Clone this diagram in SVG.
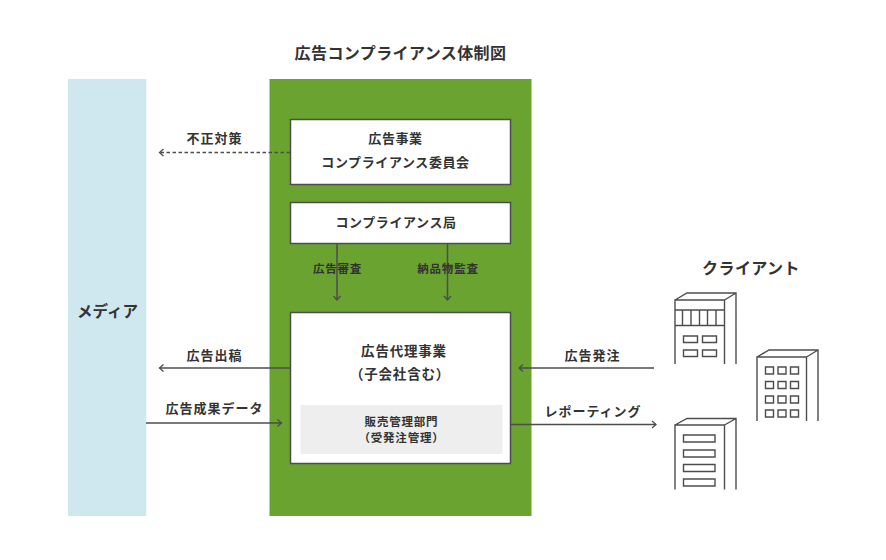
<svg xmlns="http://www.w3.org/2000/svg" width="886" height="560" viewBox="0 0 886 560">
<style>
text{font-family:"Noto Sans CJK JP","Noto Sans",sans-serif;font-weight:700;fill:#333;text-anchor:middle}
.t16{font-size:16px;letter-spacing:.4px}
.t13{font-size:13px;letter-spacing:.6px}
.t14{font-size:13.500px;letter-spacing:.8px}
.t12{font-size:13px;letter-spacing:1px}
.t11{font-size:11.500px;letter-spacing:.8px}
.box{fill:#fff;stroke:#4d4d4d;stroke-width:1.5}
.ln{fill:none;stroke:#4d4d4d;stroke-width:1.5}
.bd{fill:none;stroke:#4d4d4d;stroke-width:1.4}
</style>
<defs>
<marker id="arr" markerUnits="userSpaceOnUse" markerWidth="10" markerHeight="12" refX="8" refY="6" orient="auto">
<path d="M4,2.500L8,6L4,9.500" fill="none" stroke="#4d4d4d" stroke-width="1.3"/>
</marker>
</defs>
<rect width="886" height="560" fill="#fff"/>
<text id="title" class="t16" x="400.500" y="58.500">広告コンプライアンス体制図</text>
<g id="media"><rect x="68" y="79" width="78.300" height="437" fill="#cfe7ef"/><text class="t16" x="107.500" y="316.500" style="font-size:15.500px;letter-spacing:0">メディア</text></g>
<g id="group"><rect x="269.500" y="79" width="262" height="437" fill="#6aa330"/></g>
<g id="committee"><rect class="box" x="290.500" y="119.500" width="220" height="65"/><text class="t13" x="395.500" y="143">広告事業</text><text class="t13" x="395.500" y="167">コンプライアンス委員会</text></g>
<g id="bureau"><rect class="box" x="290.500" y="202.500" width="220" height="41"/><text class="t13" x="396" y="227">コンプライアンス局</text></g>
<g id="agency"><rect class="box" x="290.500" y="312.500" width="220" height="151"/><text class="t14" x="404" y="355.500">広告代理事業</text><text class="t14" x="400" y="378.500">（子会社含む）</text></g>
<g id="sales"><rect x="300.500" y="405" width="202" height="49" fill="#edeeed"/><text class="t11" x="401.500" y="426">販売管理部門</text><text class="t11" x="401.500" y="442">（受発注管理）</text></g>
<g id="connectors">
<path class="ln" d="M290,152.500H159.500" stroke-width="1.700" stroke-dasharray="3.500 2.500" marker-end="url(#arr)"/>
<path class="ln" d="M337,244V300" marker-end="url(#arr)"/>
<path class="ln" d="M447.500,244V300" marker-end="url(#arr)"/>
<path class="ln" d="M290,368H159.500" marker-end="url(#arr)"/>
<path class="ln" d="M146,423H281.500" marker-end="url(#arr)"/>
<path class="ln" d="M654,368H519" marker-end="url(#arr)"/>
<path class="ln" d="M511,424.500H656" marker-end="url(#arr)"/>
</g>
<g id="labels">
<text class="t12" x="214.500" y="143">不正対策</text>
<text class="t11" x="337.500" y="273">広告審査</text>
<text class="t11" x="448" y="273">納品物監査</text>
<text class="t12" x="214.500" y="360">広告出稿</text>
<text class="t12" x="214.500" y="413">広告成果データ</text>
<text class="t12" x="592.500" y="360">広告発注</text>
<text class="t12" x="593" y="416">レポーティング</text>
</g>
<g id="client"><text class="t16" x="751" y="274">クライアント</text></g>
<g id="building1">
<path class="bd" d="M675,364V300H724.500V364M736,364V293H687L675,300M724.500,300L736,293M675,310H724.500M675,325.500H724.500M682.500,310V325.500M691,310V325.500M699.500,310V325.500M707.500,310V325.500M716,310V325.500"/>
<path class="bd" d="M683.500,336h14v6.500h-14zM702.500,336h14v6.500h-14zM683.500,350h14v6.500h-14zM702.500,350h14v6.500h-14z"/>
</g>
<g id="building2">
<path class="bd" d="M757,421V357H806.500V421M818,421V350H769L757,357M806.500,357L818,350"/>
<path class="bd" d="M765.500,367h8v7h-8zM778,367h8v7h-8zM790.500,367h8v7h-8zM765.500,381.500h8v7h-8zM778,381.500h8v7h-8zM790.500,381.500h8v7h-8zM765.500,396h8v7h-8zM778,396h8v7h-8zM790.500,396h8v7h-8zM765.500,410h8v7h-8zM778,410h8v7h-8zM790.500,410h8v7h-8z"/>
</g>
<g id="building3">
<path class="bd" d="M675,489.500V425H724.500V489.500M736,489.500V418.500H687L675,425M724.500,425L736,418.500"/>
<path class="bd" d="M683.500,435h31.500v7h-31.500zM683.500,450h31.500v7h-31.500zM683.500,464.500h31.500v7h-31.500zM683.500,479h31.500v7h-31.500z"/>
</g>
</svg>
